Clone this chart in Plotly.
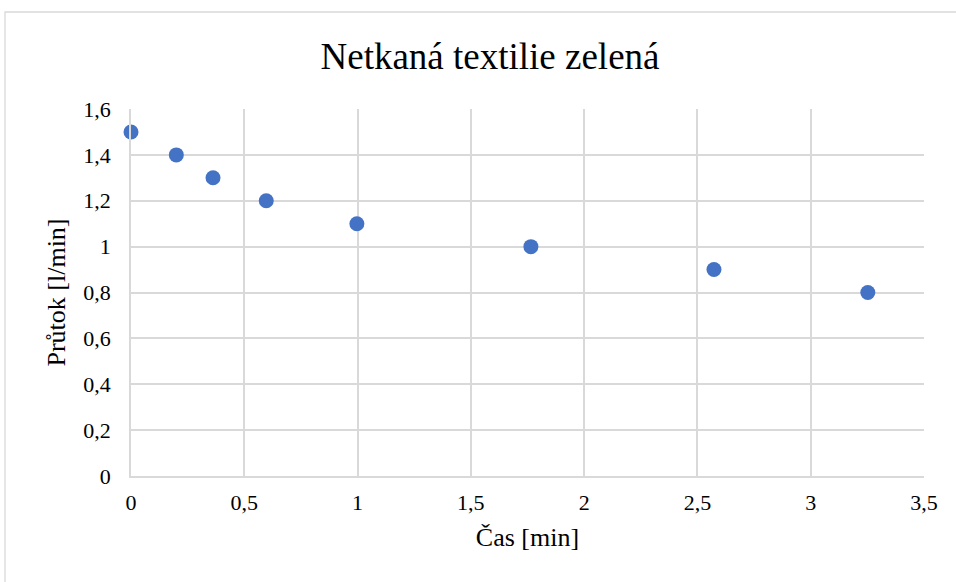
import plotly.graph_objects as go

cas_min = [0, 0.2, 0.362, 0.597, 0.997, 1.765, 2.573, 3.252]
prutok_l_min = [1.5, 1.4, 1.3, 1.2, 1.1, 1.0, 0.9, 0.8]

x_ticks = [0, 0.5, 1, 1.5, 2, 2.5, 3, 3.5]
x_tick_labels = ["0", "0,5", "1", "1,5", "2", "2,5", "3", "3,5"]
y_ticks = [0, 0.2, 0.4, 0.6, 0.8, 1.0, 1.2, 1.4, 1.6]
y_tick_labels = ["0", "0,2", "0,4", "0,6", "0,8", "1", "1,2", "1,4", "1,6"]

W, H = 956, 582
L, R, T, B = 131, 32, 109, 106
pw, ph = W - L - R, H - T - B

def px_to_paper_x(px):
    return (px - L) / pw

def py_to_paper_y(py):
    return (H - B - py) / ph

font = "Liberation Serif"

fig = go.Figure(go.Scatter(
    x=cas_min, y=prutok_l_min, mode="markers",
    marker=dict(color="#4472C4", size=15, line=dict(width=0)),
    cliponaxis=False, hoverinfo="skip",
))

fig.update_layout(
    width=W, height=H,
    margin=dict(l=L, r=R, t=T, b=B),
    paper_bgcolor="white", plot_bgcolor="white",
    showlegend=False,
    font=dict(family=font, color="#000000"),
    title=dict(text="Netkaná textilie zelená", x=490 / W, xanchor="center",
               y=1 - 56 / H, yanchor="middle", xref="container", yref="container",
               font=dict(size=37, family=font, color="#000000")),
    xaxis=dict(range=[0, 3.5], tickvals=x_ticks, ticktext=x_tick_labels,
               showgrid=True, gridcolor="#d9d9d9", gridwidth=1.5,
               showline=True, linecolor="#d9d9d9", linewidth=1.5,
               zeroline=False, ticks="", tickfont=dict(size=22, family=font),
               ticklabelstandoff=6,
               title=dict(text="Čas [min]", font=dict(size=26, family=font), standoff=14),
               fixedrange=True),
    yaxis=dict(range=[0, 1.6], tickvals=y_ticks, ticktext=y_tick_labels,
               showgrid=True, gridcolor="#d9d9d9", gridwidth=1.5,
               showline=True, linecolor="#d9d9d9", linewidth=1.5,
               zeroline=False, ticks="", tickfont=dict(size=22, family=font),
               ticklabelstandoff=14,
               title=dict(text="Průtok [l/min]", font=dict(size=26, family=font), standoff=10),
               fixedrange=True),
    shapes=[dict(type="rect", xref="paper", yref="paper",
                 x0=px_to_paper_x(5), x1=px_to_paper_x(965),
                 y0=py_to_paper_y(595), y1=py_to_paper_y(12),
                 line=dict(color="#d9d9d9", width=1.3), fillcolor="rgba(0,0,0,0)",
                 layer="below")],
)

fig.write_html("out.html", config={"displayModeBar": False},
               post_script="document.body.style.margin='0';")
